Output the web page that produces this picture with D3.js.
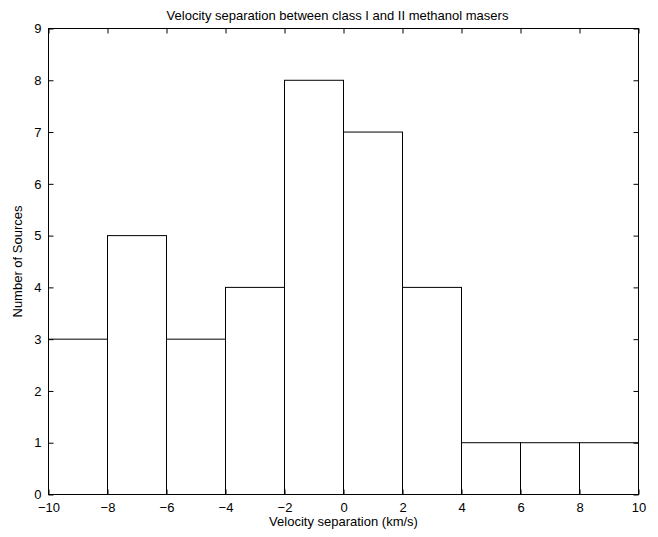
<!DOCTYPE html>
<html lang="en">
<head>
<meta charset="utf-8">
<title>Velocity separation histogram</title>
<script src="https://d3js.org/d3.v7.min.js"></script>
<style type="text/css">
body { margin: 0; background: #fff; }
text { font-family: "Liberation Sans", Arial, sans-serif; fill: #000; }
</style>
</head>
<body>
<script type="text/javascript">

// histogram bins (km/s) and counts
const binStart = [-10, -8, -6, -4, -2, 0, 2, 4, 6, 8];
const binEnd   = [-8, -6, -4, -2, 0, 2, 4, 6, 8, 10];
const counts   = [3, 5, 3, 4, 8, 7, 4, 1, 1, 1];
const xTicks = [-10, -8, -6, -4, -2, 0, 2, 4, 6, 8, 10];
const yTicks = [0, 1, 2, 3, 4, 5, 6, 7, 8, 9];

const width = 658, height = 537;
const plotLeft = 48.5, plotRight = 638.5, plotTop = 28.5, plotBottom = 494.5;
const fontSize = "13px";

var x = d3.scaleLinear().domain([-10, 10]).range([plotLeft, plotRight]);
var y = d3.scaleLinear().domain([0, 9]).range([plotBottom, plotTop]);

var svg = d3.select("body").append("svg")
    .attr("width", width)
    .attr("height", height);

// bars
svg.append("g").selectAll("rect")
    .data(counts)
    .enter()
    .append("rect")
    .attr("x", (d, i) => x(binStart[i]))
    .attr("y", d => y(d))
    .attr("width", (d, i) => x(binEnd[i]) - x(binStart[i]))
    .attr("height", d => y(0) - y(d))
    .style("fill", "#fff")
    .style("stroke", "#000")
    .style("stroke-width", 1);

// frame
svg.append("rect")
    .attr("x", plotLeft).attr("y", plotTop)
    .attr("width", plotRight - plotLeft).attr("height", plotBottom - plotTop)
    .style("fill", "none").style("stroke", "#000").style("stroke-width", 1);

const tickFmt = d => d < 0 ? "\u2212" + Math.abs(d) : d;

// axes with inward ticks
var xBottom = svg.append("g").attr("transform", `translate(0,${plotBottom})`)
    .call(d3.axisBottom(x).tickValues(xTicks).tickSize(-5).tickPadding(8).tickFormat(tickFmt));
var xTop = svg.append("g").attr("transform", `translate(0,${plotTop})`)
    .call(d3.axisTop(x).tickValues(xTicks).tickSize(-5).tickFormat(""));
var yLeft = svg.append("g").attr("transform", `translate(${plotLeft},0)`)
    .call(d3.axisLeft(y).tickValues(yTicks).tickSize(-5).tickPadding(7));
var yRight = svg.append("g").attr("transform", `translate(${plotRight},0)`)
    .call(d3.axisRight(y).tickValues(yTicks).tickSize(-5).tickFormat(""));

[xBottom, xTop, yLeft, yRight].forEach(function(g) {
  g.select(".domain").remove();
  g.selectAll("line").style("stroke", "#000");
  g.selectAll("text").style("font-size", fontSize).style("font-family", "'Liberation Sans', Arial, sans-serif");
});

// titles
svg.append("text")
    .attr("x", (plotLeft + plotRight) / 2 - 6).attr("y", 19.5)
    .attr("text-anchor", "middle")
    .style("font-size", fontSize)
    .text("Velocity separation between class I and II methanol masers");

svg.append("text")
    .attr("x", (plotLeft + plotRight) / 2).attr("y", 526)
    .attr("text-anchor", "middle")
    .style("font-size", fontSize)
    .text("Velocity separation (km/s)");

svg.append("text")
    .attr("transform", `translate(22,${(plotTop + plotBottom) / 2}) rotate(-90)`)
    .attr("text-anchor", "middle")
    .style("font-size", fontSize)
    .text("Number of Sources");

</script>
</body>
</html>
